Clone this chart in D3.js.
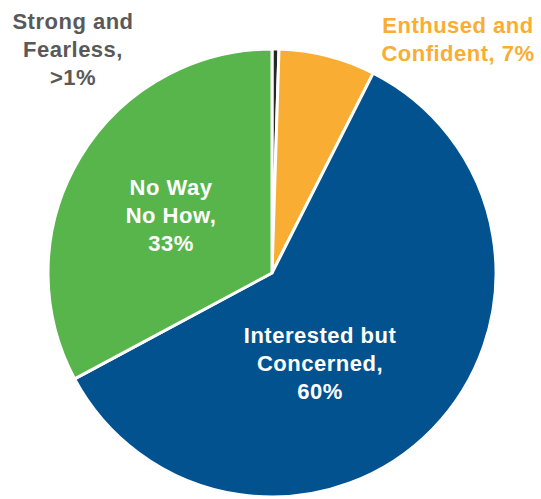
<!DOCTYPE html>
<html>
<head>
<meta charset="utf-8">
<script src="https://d3js.org/d3.v7.min.js"></script>
<style>
  body { margin: 0; background: #ffffff; }
  svg { display: block; }
  text { font-family: "Liberation Sans", Arial, sans-serif; font-weight: bold; }
</style>
</head>
<body>
<div id="chart"></div>
<script>

// slices, clockwise from 12 o'clock
var categories = ["Strong and Fearless", "Enthused and Confident", "Interested but Concerned", "No Way No How"];
var shares = [0.5, 7, 60, 33];
var labelLines = [
  ["Strong and", "Fearless,", ">1%"],
  ["Enthused and", "Confident, 7%"],
  ["Interested but", "Concerned,", "60%"],
  ["No Way", "No How,", "33%"]
];

var sliceColors = ["#262626", "#F9AD33", "#02528F", "#58B54B"];
var labelColors = ["#595959", "#F9AD33", "#ffffff", "#ffffff"];
// where each label block is centred (first baseline), relative to the page
var labelAnchors = [[73, 29], [458, 33], [320, 343], [171, 195]];

var width = 541, height = 499;
var cx = 272, cy = 273, radius = 224;
var lineHeight = 28;

function drawPie(containerSelectorString) {
  var svg = d3.select(containerSelectorString)
    .append("svg").attr("width", width).attr("height", height);

  var data = categories.map(function(c, i) {
    return { name: c, value: shares[i], index: i };
  });

  var pie = d3.pie()
    .value(function(d) { return d.value; })
    .sort(null)
    .startAngle(0)
    .endAngle(2 * Math.PI);

  var arc = d3.arc().innerRadius(0).outerRadius(radius);

  var g = svg.append("g").attr("transform", "translate(" + cx + "," + cy + ")");

  g.selectAll("path.slice")
    .data(pie(data))
    .enter().append("path")
    .attr("class", "slice")
    .attr("d", arc)
    .attr("fill", function(d) { return sliceColors[d.data.index]; })
    .attr("stroke", "#ffffff")
    .attr("stroke-width", 3)
    .attr("stroke-linejoin", "round");

  // labels: two outside the pie, two inside
  var labels = svg.selectAll("text.label")
    .data(data)
    .enter().append("text")
    .attr("class", "label")
    .attr("text-anchor", "middle")
    .attr("font-size", "22px")
    .attr("letter-spacing", "0.5px")
    .attr("fill", function(d) { return labelColors[d.index]; });

  labels.each(function(d) {
    var t = d3.select(this);
    var pos = labelAnchors[d.index];
    labelLines[d.index].forEach(function(line, j) {
      t.append("tspan")
        .attr("x", pos[0])
        .attr("y", pos[1] + j * lineHeight)
        .text(line);
    });
  });
}

drawPie("#chart");
</script>
</body>
</html>
